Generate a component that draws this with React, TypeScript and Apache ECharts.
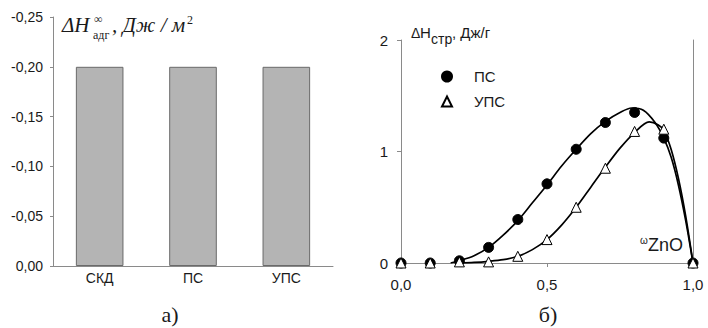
import React, { useEffect, useRef } from "react";
import * as echarts from "echarts";

const barCategories = ["СКД", "ПС", "УПС"];
const barValues = [-0.2, -0.2, -0.2];

const psPoints: [number, number][] = [
  [0, 0], [0.1, 0], [0.2, 0.02], [0.3, 0.14], [0.4, 0.39], [0.5, 0.71],
  [0.6, 1.02], [0.7, 1.26], [0.8, 1.35], [0.9, 1.12], [1.0, 0],
];
const upsPoints: [number, number][] = [
  [0, 0], [0.1, 0], [0.2, 0.01], [0.3, 0.01], [0.4, 0.06], [0.5, 0.21],
  [0.6, 0.5], [0.7, 0.85], [0.8, 1.18], [0.9, 1.2], [1.0, 0],
];
const psCurve: [number, number][] = [
  [0.17, 0], [0.2, 0.02], [0.25, 0.065], [0.3, 0.14], [0.35, 0.25], [0.4, 0.38],
  [0.45, 0.54], [0.5, 0.7], [0.55, 0.87], [0.6, 1.02], [0.65, 1.16], [0.7, 1.27],
  [0.75, 1.35], [0.79, 1.39], [0.83, 1.37], [0.87, 1.26], [0.9, 1.12],
  [0.925, 0.95], [0.95, 0.7], [0.975, 0.38], [1.0, 0],
];
const upsCurve: [number, number][] = [
  [0.2, 0], [0.25, 0.005], [0.3, 0.015], [0.35, 0.03], [0.4, 0.06], [0.45, 0.12],
  [0.5, 0.21], [0.55, 0.34], [0.6, 0.5], [0.65, 0.68], [0.7, 0.86], [0.75, 1.03],
  [0.8, 1.17], [0.85, 1.265], [0.88, 1.24], [0.9, 1.19], [0.925, 1.02],
  [0.95, 0.76], [0.975, 0.42], [1.0, 0],
];

const SANS = "'Liberation Sans', Arial, sans-serif";
const SERIF = "'Liberation Serif', 'Times New Roman', serif";
const AXIS = "#8a8a8a";
const TXT = "#1a1a1a";

const txt = (x: number, y: number, text: string, font: string, align = "left") => ({
  type: "text",
  x,
  y,
  style: { text, font, fill: TXT, align, verticalAlign: "middle" },
});

export default function App() {
  const ref = useRef<HTMLDivElement>(null);
  useEffect(() => {
    if (!ref.current) return;
    const chart = echarts.init(ref.current, undefined, { renderer: "svg" });
    chart.setOption({
      animation: false,
      backgroundColor: "#ffffff",
      grid: [
        { left: 53, top: 17, width: 280, height: 249 },
        { left: 401, top: 40, width: 292, height: 223 },
      ],
      legend: {
        data: [
          { name: "ПС", icon: "circle" },
          { name: "УПС", icon: "triangle" },
        ],
        orient: "vertical",
        left: 436,
        top: 64,
        itemWidth: 10,
        itemHeight: 10,
        itemGap: 10,
        textStyle: {
          fontFamily: SANS,
          fontSize: 15,
          color: TXT,
          rich: { t: { fontFamily: SANS, fontSize: 15, color: TXT, padding: [0, 0, 0, 17] } },
        },
        formatter: (name: string) => `{t|${name}}`,
      },
      xAxis: [
        {
          type: "category",
          gridIndex: 0,
          data: barCategories,
          axisLine: { lineStyle: { color: AXIS, width: 1 } },
          axisTick: { show: false },
          axisLabel: { margin: 5, fontFamily: SANS, fontSize: 14, color: TXT },
        },
        {
          type: "value",
          gridIndex: 1,
          min: 0,
          max: 1,
          interval: 0.5,
          splitLine: { show: false },
          axisLine: { lineStyle: { color: AXIS, width: 1 } },
          axisTick: { show: true, length: 4, lineStyle: { color: AXIS } },
          axisLabel: {
            margin: 14,
            fontFamily: SANS,
            fontSize: 15,
            color: TXT,
            formatter: (v: number) => v.toFixed(1).replace(".", ","),
          },
        },
      ],
      yAxis: [
        {
          type: "value",
          gridIndex: 0,
          inverse: true,
          min: -0.25,
          max: 0,
          interval: 0.05,
          splitLine: { show: false },
          axisLine: { show: true, lineStyle: { color: AXIS, width: 1 } },
          axisTick: { show: true, length: 3, lineStyle: { color: AXIS } },
          axisLabel: {
            margin: 10,
            fontFamily: SANS,
            fontSize: 14,
            color: TXT,
            formatter: (v: number) => (Math.abs(v) < 1e-9 ? "0,00" : v.toFixed(2).replace(".", ",")),
          },
        },
        {
          type: "value",
          gridIndex: 1,
          min: 0,
          max: 2,
          interval: 1,
          splitLine: { show: false },
          axisLine: { show: true, lineStyle: { color: AXIS, width: 1 } },
          axisTick: { show: true, length: 4, lineStyle: { color: AXIS } },
          axisLabel: { margin: 13, fontFamily: SANS, fontSize: 15, color: TXT },
        },
        {
          type: "value",
          gridIndex: 1,
          position: "right",
          min: 0,
          max: 2,
          interval: 1,
          splitLine: { show: false },
          axisLine: { show: true, lineStyle: { color: AXIS, width: 1 } },
          axisTick: { show: false },
          axisLabel: { show: false },
        },
      ],
      series: [
        {
          type: "bar",
          xAxisIndex: 0,
          yAxisIndex: 0,
          data: barValues,
          barWidth: "51%",
          itemStyle: { color: "#b4b4b4", borderColor: "#6a6a6a", borderWidth: 1 },
        },
        {
          type: "line",
          name: "ПС-fit",
          xAxisIndex: 1,
          yAxisIndex: 1,
          data: psCurve,
          smooth: 0.3,
          showSymbol: false,
          symbol: "none",
          lineStyle: { color: "#000", width: 1.7 },
          z: 2,
        },
        {
          type: "line",
          name: "УПС-fit",
          xAxisIndex: 1,
          yAxisIndex: 1,
          data: upsCurve,
          smooth: 0.3,
          showSymbol: false,
          symbol: "none",
          lineStyle: { color: "#000", width: 1.7 },
          z: 2,
        },
        {
          type: "scatter",
          name: "ПС",
          xAxisIndex: 1,
          yAxisIndex: 1,
          data: psPoints,
          symbol: "circle",
          symbolSize: 10,
          itemStyle: { color: "#000", borderColor: "#000", borderWidth: 1, opacity: 1 },
          z: 3,
        },
        {
          type: "scatter",
          name: "УПС",
          xAxisIndex: 1,
          yAxisIndex: 1,
          data: upsPoints,
          symbol: "triangle",
          symbolSize: 10,
          itemStyle: { color: "#fff", borderColor: "#000", borderWidth: 1, opacity: 1 },
          z: 4,
        },
      ],
      graphic: [
        txt(62, 25, "ΔH", `italic 21px ${SERIF}`),
        txt(94, 19, "∞", `12px ${SERIF}`),
        txt(93, 35, "адг", `12px ${SERIF}`),
        txt(112, 25, ", Дж / м", `italic 21px ${SERIF}`),
        txt(187, 20, "2", `12px ${SERIF}`),
        txt(411, 33, "Δ", `14px ${SANS}`),
        txt(420, 32.5, "H", `15px ${SANS}`),
        txt(431, 38.5, "стр", `14px ${SANS}`),
        txt(452, 32.5, ", Дж/г", `15px ${SANS}`),
        txt(640, 240, "ω", `10px ${SANS}`),
        txt(648, 245, "ZnO", `18px ${SANS}`),
        txt(170, 314, "а)", `22px ${SERIF}`, "center"),
        txt(548, 314, "б)", `22px ${SERIF}`, "center"),
      ],
    });
    return () => chart.dispose();
  }, []);
  return <div ref={ref} style={{ width: 708, height: 328, position: "absolute", left: 0, top: 0 }} />;
}
